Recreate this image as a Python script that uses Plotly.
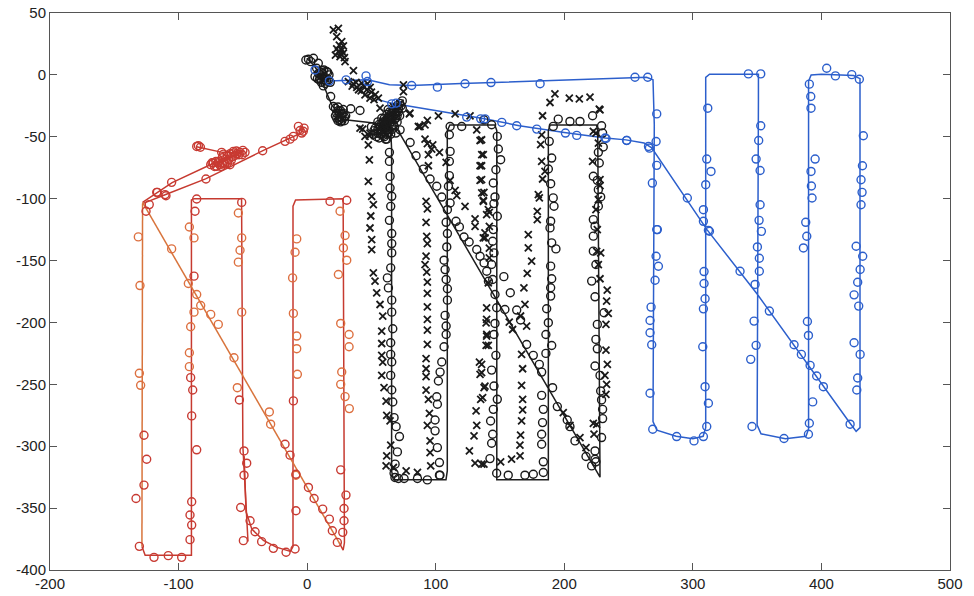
import plotly.graph_objects as go

# ---------------- data (x, y in plot units) ----------------
red_line = [(-86, -58), (-66, -62.6), (-57, -63), (-50, -62), (-62, -68), (-72, -71), (-105, -87), (-117, -95), (-128, -103), None,
            (-3, -43), (-5, -47), (-34, -61), (-79, -84), (-111, -97), (-128, -104), None,
            (-128.5, -381), (-126, -388), (-90, -388), (-90, -101), (-88, -100), (-51, -100), (-50, -300), (-46, -377), None,
            (-49, -308), (-47.5, -353), (-43, -367), (-34, -376), (-24, -381.5), (-13, -385), (-11, -381), (-11, -106),
            (-9, -101), (28, -100), (29, -378), (28, -384), (25, -378)]
orange_line = [(-128, -104), (-128.5, -381), None, (-128, -103), (26, -380)]

red_pts = [(-85.9, -57.8), (-84.6, -57.2), (-83, -58.5), (-66.5, -62.6), (-57.4, -61.8), (-52.2, -62.6), (-48.3, -62.6),
           (-54.8, -63.7), (-60, -63.7), (-56, -65), (-50.5, -64.5), (-73, -71.2), (-69.1, -69.9), (-65.2, -70.7),
           (-61.3, -68.5), (-60, -72.6), (-70.4, -73.9), (-67, -74), (-64, -72), (-75, -72.5), (-58, -66),
           (-53, -64.5), (-62, -65), (-66, -67), (-68, -72.5), (-72, -74), (-63, -70), (-59, -69), (-55, -61.5),
           (-71, -70), (-74, -71), (-65, -64), (-50, -61), (-69, -71), (-66, -72), (-62, -71), (-57, -63),
           (-34.6, -61.3),
           (-17.2, -53.7), (-13.3, -51.9), (-10.7, -49.7), (-6.8, -41.6), (-2.4, -43), (-4.2, -47), (-5.5, -44.9),
           (-3, -45.5), (-105.4, -86.8), (-78.7, -84.1), (-117, -94.9), (-110.5, -96.7), (-125.3, -110.2),
           (-122.8, -104.8), (-116.5, -94.9), (-109.8, -97.6),
           (-85.9, -100.3), (-87.2, -110.2), (-88, -162.6), (-90.6, -244.6), (-89, -254.6), (-89.8, -275.5),
           (-85.9, -302.9), (-89.8, -344.9), (-91.1, -355.6), (-89.8, -363.7), (-91.1, -375.5),
           (-126.9, -291.1), (-124.8, -310.5), (-126.9, -331.4), (-133.1, -342.2), (-130.5, -380.9), (-119.1, -389.8),
           (-108, -388.4), (-97.6, -389.8),
           (-52.7, -262.6), (-49.1, -303.8), (-47, -313.7), (-49.1, -323.4), (-51.7, -349.5), (-49.6, -376.3),
           (-44.4, -360.2), (-40.5, -369.1), (-35.4, -377.1), (-26.3, -382.5), (-16.4, -385.7), (-9.4, -383), (-50.9, -103),
           (-10.7, -263.4), (-8.7, -322.6), (-8.7, -352.1), (17.8, -102.2), (30.8, -101.3),
           (-17.2, -298.4), (-13.3, -307.2), (1, -333.3), (5.4, -342.2), (12.1, -350.8), (17.3, -358.9), (19.6, -368.3),
           (23.5, -377.7), (26.1, -319.1), (30.2, -339.5), (28.7, -350.3), (28.7, -360.2), (27.7, -369.6)]

orange_pts = [(-131.3, -130.9), (-130, -170.2), (-130.5, -241.1), (-129.5, -250.8),
              (-91.6, -122.9), (-88, -131.7), (-92.4, -168.5), (-85.9, -177.4), (-88, -191.7), (-90.6, -203.5),
              (-91.6, -224.5), (-91.6, -235.7),
              (-105.4, -140.6), (-82.8, -186.3), (-75, -193.5), (-69.1, -201.6), (-56.9, -228.5), (-54.3, -252.7),
              (-29.4, -272.3), (-28.4, -282.2), (-8.7, -323.4),
              (-53.5, -111.6), (-50.9, -131.7), (-52.2, -141.7), (-53.5, -151.3), (-50.9, -191.7),
              (-8.1, -132.5), (-9.4, -143.3), (-11.3, -164), (-10.7, -192.7), (-8.1, -211), (-8.1, -221.2), (-7.6, -241.9),
              (25.6, -110.2), (29.5, -129.8), (28.2, -139.8), (30.8, -149.7), (24.3, -161.3), (26.1, -200.8),
              (32.6, -209.7), (32.6, -219.6), (26.9, -240), (26.1, -250), (29.5, -259.9), (32.8, -269.6)]

blue_line = [(6, 4), (10, -1), (16, -5), (30, -4.5), (47, -4), (64, -8), (81, -8.5), (120, -7), (180, -5), (230, -3),
             (264, -2), (269, -4), (270, -40), (269, -280), (272, -287), (287, -292), (300, -294), (308, -292),
             (310, -285), (310, -120), (310, -2), (313, 0.5), (345, 1), (351, 0.5), (351, -20), (350, -283),
             (353, -290), (372, -294), (388, -292), (390, -286), (390, -5), (392, 0), (400, 0.5), (425, -0.5),
             (430, -3), (430, -285), (427, -288), (422, -281), (350, -177), (311, -125), (268, -59), (262, -55),
             (248, -52.5), (232, -51), (200, -46.5), (165, -41), (138, -35.5), (100, -29), (66, -23), (55, -20)]

blue_pts = [(255, -1.9), (264.9, -1.9), (271.9, -31.5), (271.4, -53.8), (266.2, -59.2), (271.9, -73.1), (268.5, -87.4),
            (271.9, -125), (248.5, -53), (232.5, -51.4), (295.7, -99.5), (308.2, -108.9), (308.2, -118.3),
            (312.1, -125.6), (311.6, -26.9), (310.8, -68), (314.1, -78), (310, -88.7), (343.2, 0.8), (352.8, 0.8),
            (352.8, -41.1), (351.2, -53), (349.2, -68), (352.3, -77.2), (352.3, -104.9), (351.5, -117.5),
            (353.3, -126.4), (404.1, 5.4), (410.9, -0.8), (423.6, 0.2), (429.5, -3.5), (390.6, -7.5), (391.7, -17.5),
            (391.9, -26.9), (395.1, -68), (391.9, -78), (392.2, -89.8), (392.7, -99.5), (387.8, -119.1),
            (388.6, -130.4), (432.6, -49.2), (431.9, -73.4), (430.8, -84.7), (431.6, -94.9), (430.8, -104.9),
            (272.4, -125), (271.4, -146.5), (273.2, -154.6), (270.6, -165.9), (267.5, -187.6), (266.7, -198.4),
            (266.7, -208.3), (268, -218), (266.7, -257.2), (268.8, -286.3), (287.4, -292.2), (300.9, -295.7),
            (308.2, -292.2), (310.8, -284.1), (312.1, -265.3), (309.5, -251.9), (307.7, -219.6), (308.2, -189),
            (309.5, -180.9), (308.7, -168.5), (308.7, -158.9), (312.9, -126.3), (336.7, -158.6),
            (348.4, -169.3), (359.5, -190.8), (378.7, -218), (384.4, -225.8), (391.2, -234.7), (396.3, -243.3),
            (401.5, -251.9), (422.3, -282.2), (350.2, -139), (351.7, -148.1), (351.7, -158.6), (347.6, -198.9),
            (349.2, -218.5), (345, -229.8), (346, -284.1), (370.9, -293.8), (389.9, -290.3), (390.6, -281.4),
            (393.2, -264.2), (389.9, -210.5), (389.1, -199.2), (386, -139.8), (427, -138.4), (432.1, -146.5),
            (430.1, -157.2), (428.2, -167.5), (425.4, -177.7), (429, -186.8), (425.4, -216.4), (430.1, -225.8),
            (428.2, -244.9), (427.5, -254.6),
            (6.1, 4), (17.3, -4.8), (30.3, -4), (45.8, -0.8), (46.9, -5.4), (81.3, -8.6), (101.3, -9.9),
            (122.8, -7.2), (143, -6.2), (181.2, -7.2), (65.8, -23.4), (69.2, -22.8), (124.1, -34.1),
            (135, -35.5), (138.4, -35.5), (151.4, -38.4), (163, -41.1), (178.6, -43.8), (200.9, -47),
            (209.7, -48.9), (231.7, -51), (248.6, -52.9), (265.5, -57.8)]

black_line = [(-0.3, 13.5), (5, 8), (9, 2), (12.6, -8), (19, -24), (26, -33), (28, -36), (45, -38), (62, -40),
              (65, -44), (65.7, -60), (65.7, -320), (67, -327), (108, -327), (109, -320), (109, -45), (111, -40.4),
              (146, -40.4), (147.5, -45), (147.5, -327), (187.6, -327), (187.6, -45), (189, -40.4), (225, -40.4),
              (226, -45), (227.8, -325), (69.6, -43)]

black_o = [(1, 12.6), (4.9, 13.4), (2.8, 10.7), (-1, 12), (8.7, 9.4), (7.4, 5.4), (11.3, 3.5), (15.2, 2.7),
           (12.6, -1.4), (6.1, -1.4), (9.5, -4.1), (16.5, -4.1), (12.6, -8.9), (10, 0), (14, -2), (17, 0), (8, -3),
           (11, -6), (13, 4), (18, -6), (12, 1), (15, -5), (10, -3), (16, 2), (14, -7), (9, 1), (13, -4), (11, 2),
           (18.3, -17.5), (20.4, -25.5),
           (23, -30.9), (25.6, -33.6), (22, -27), (24, -26), (26, -29), (28, -31), (27, -35), (29, -37), (24, -37),
           (22, -33), (30, -33), (26, -38), (24, -29), (27, -32), (25, -36), (29, -34), (23, -35), (28, -28),
           (25, -31), (27, -37),
           (33.9, -27.4), (41.1, -28.8),
           (55, -38), (58, -35), (60, -40), (62, -37), (64, -33), (66, -30), (68, -28), (70, -25), (72, -23),
           (74, -21), (62, -45), (58, -44), (55, -47), (52, -45), (65, -48), (60, -50), (68, -42), (70, -38),
           (72, -33), (66, -36), (63, -28), (57, -42), (54, -50), (61, -52), (69, -47), (74, -27), (71, -30),
           (50, -42), (64, -40), (56, -40), (59, -38), (61, -42), (63, -35), (65, -38), (67, -33), (69, -31),
           (71, -27), (73, -25), (60, -46), (57, -48), (53, -43), (66, -44), (63, -47), (59, -41), (62, -32),
           (64, -30), (67, -40), (55, -44), (58, -47), (61, -37), (68, -36), (70, -33), (52, -48), (56, -51),
           (60, -43), (62, -41), (64, -36), (66, -41), (58, -39), (60, -35), (63, -44), (65, -34), (67, -29),
           (69, -35), (57, -45), (59, -49), (62, -48), (70, -29), (68, -32), (61, -39),
           (72.3, -44.4), (80.1, -54.6), (84.7, -65.3), (90.4, -76.1), (95.6, -84.1), (100.8, -90), (104.7, -98.7),
           (111.2, -103.5), (115.8, -118.3), (118.4, -122.8), (131.9, -141.1), (134.5, -146.5), (137.6, -151.9),
           (139.7, -158.6), (141, -166.7),
           (61.9, -51.9), (64, -62.6), (64, -69.9), (64.5, -82), (64.5, -91.4), (65.8, -98.1), (65, -106.2),
           (64, -117.5), (65.8, -128.2), (65.8, -136.3), (65.8, -143.8), (65, -155.9), (62.4, -164), (63.2, -172.1),
           (65.8, -182), (65.8, -191.7), (66.6, -205.1), (65, -216.4), (65, -225.8), (65.8, -232), (65, -242.8),
           (65.8, -254.6), (66.6, -264.3), (67.6, -276.9), (69.2, -284.2), (71.8, -292.2), (70.2, -304.6),
           (68.4, -314.5), (67.6, -321.8), (71, -326.1), (75.4, -326.1), (85.8, -326.1), (93.5, -327.2),
           (68.3, -325.3), (103.3, -323.4),
           (111.2, -41.7), (120.2, -41.7), (110.6, -48.4), (111.2, -61.8), (110.6, -69.9), (110.6, -81.4),
           (109.9, -90), (109.1, -108.9), (108.1, -119.1), (109.1, -128.2), (108.6, -139), (106.5, -149.7),
           (107.3, -157.3), (108.1, -165.3), (109.1, -172.8), (109.1, -182), (107.3, -194.3), (108.1, -202.9),
           (108.1, -209.7), (106.5, -219.6), (104.7, -232), (103.4, -240.1), (102.1, -247.3), (100.8, -260),
           (101.3, -266.1), (99.5, -278.8), (99.5, -287.6), (101.3, -301.1), (102.9, -313.2), (102.9, -323.4),
           (147.9, -49.7), (148.7, -59.9), (150.5, -68.5), (146.8, -76.6), (144.8, -87.3), (146.1, -98.6),
           (145.3, -104), (147.9, -114.2), (144.8, -125), (144.3, -134.4), (145.3, -143.8), (143.5, -153.2),
           (144.3, -165.3), (146.1, -177.4), (147.4, -188.1), (153.8, -189.5), (143.5, -40.3), (137.5, -36.3),
           (146.1, -200.8), (145.3, -209.7), (146.8, -226.6), (143.5, -238.5), (145.3, -251.4), (147.9, -262.1),
           (144.8, -270.2), (142.7, -279.6), (144.3, -290.3), (143.5, -297.6), (142.2, -310), (147.4, -321.8),
           (156.4, -323.4), (169.4, -323.4), (175.9, -322.6), (183.7, -321.2),
           (195.3, -35.7), (204.4, -37.6), (212.2, -37.6), (222, -33), (191.4, -41.6), (188.3, -53.7),
           (190.2, -67.2), (187.6, -76), (189.4, -87.9), (191.4, -99.4), (192, -106.1), (189.4, -118.2),
           (188.9, -123.6), (190.2, -135.7), (193.5, -140.6), (189.4, -154.5), (190.2, -164.7), (189.4, -172),
           (189.4, -178.7), (186.3, -188.9), (187.6, -200.2), (185.7, -209.7), (190.2, -218.6), (185.7, -225),
           (182.4, -258.9), (183.7, -270.2), (183.1, -280.9), (182.4, -290.3), (182.4, -298.4), (183.7, -312.6),
           (170.7, -217.8), (175.9, -226.6), (180.6, -233.9), (182.4, -240.1), (190.9, -252.7), (194.6, -268),
           (202.3, -278.8), (204.4, -284.2), (208.3, -295.7), (216.9, -308.3), (221.3, -315.9), (223.9, -310.5),
           (229, -41.1), (229.8, -47), (230.3, -58.3), (226.5, -62.6), (227.2, -71.2), (222.6, -81.9),
           (225.7, -85.2), (226.5, -92.7), (228.3, -98.6), (226.5, -106.1), (222.6, -116.9), (223.9, -122.3),
           (222.6, -130.3), (222.6, -142.4), (224.6, -153.2), (221.3, -166.6), (223.9, -179.3), (230.9, -192.2),
           (225.7, -201.6), (224.6, -213.7), (225.7, -221.3), (223.9, -235.2), (227.8, -242.8), (228.3, -255.4),
           (229, -262.6), (229.8, -270.2), (229.8, -277.7), (229, -293), (223.9, -303.8), (224.6, -312.6),
           (153, -163), (158, -176), (163, -190), (166, -198), (122, -131), (126, -135)]

black_x = [(20.4, 36.3), (24.3, 37.6), (23, 30.9), (26.9, 26.9), (28.2, 23.4), (24.3, 18.8), (28.2, 17.5),
           (25.6, 14.8), (22, 16), (27, 20), (29.5, 10.7), (36, 3.5), (23, 21), (26, 17), (25, 24), (29, 14),
           (32.1, -5.4), (36, -7.3), (38.6, -10), (42.4, -6.7), (46.3, -12.1), (48.9, -18.8), (55.4, -18.8),
           (45, -16.1), (40, -12), (35, -9), (50, -14), (44, -9), (52, -20), (47, -7), (38, -6), (42, -13),
           (49, -10), (53, -16),
           (56.7, -26.9), (67.1, -25.6), (72.3, -22.9), (74.9, -13.5), (74.9, -8.1), (80, -30.9), (86.5, -41.7),
           (91.7, -40.3), (41.1, -43), (48.9, -47.1), (45, -49.7), (43.2, -43.8),
           (79.5, -31.5), (87.8, -41.7), (93.5, -36.8), (102.1, -33.1), (115.1, -31.5), (126.7, -33.1),
           (131.9, -44.4), (134.5, -53), (135.8, -64.5), (134.5, -73.4), (134.5, -85.2), (135.8, -95.4),
           (137.1, -102.1), (130.6, -116.4), (130.6, -122.3), (138.4, -131.7),
           (91.7, -51.9), (93.5, -55.6), (97.7, -56.5), (96.9, -59.9), (102.9, -62.6), (94.3, -64.5), (94.3, -73.4),
           (108.1, -70.7), (111.2, -85.2), (115.1, -93.3), (116.4, -97.6), (122.8, -106.2),
           (92.5, -102.1), (93.5, -108.3), (92.5, -119.1), (93, -130.4), (93.5, -136.3), (92.5, -146.5),
           (91.7, -153.2), (93, -159.4), (93.5, -167.5), (93.5, -176.6), (93.5, -187.4), (93.5, -197.6),
           (93.5, -206.2), (93.5, -217.8), (92.5, -229.3), (92.5, -237.4), (92.5, -243.8), (92.5, -254.6),
           (94.3, -262.1), (95.1, -273.4), (93.5, -283.1), (95.6, -295.7), (95.6, -305.1), (96.1, -315.9),
           (47.6, -56.5), (48.4, -68.6), (47.6, -86.1), (50.2, -98.2), (51.5, -104.9), (48.9, -123.7),
           (50.2, -133.1), (50.2, -141.2), (51.5, -160), (52.8, -166.7), (54.1, -176.1), (56.7, -185.5),
           (58.8, -194.9), (58, -207), (58, -217), (58, -226.6), (58.8, -232), (58, -242.8), (59.8, -252.7),
           (61.4, -263.5), (61.9, -275), (64.5, -279.6), (65, -299.2), (61.9, -307.8), (61.4, -315.9), (67.1, -317.2),
           (77, -319.9), (85.8, -321.2), (48.4, -49.2), (49.5, -114),
           (139.2, -200.3), (139.7, -209.7), (139.2, -218.6), (134, -232), (134.5, -242), (137.6, -252.7),
           (135, -262.1), (131.4, -271.5), (131.9, -283.1), (129.8, -291.7), (126.2, -303.8), (130.6, -313.7),
           (135.8, -314.5), (140.9, -108.9), (139.6, -112.9), (138.3, -127.7), (141.7, -147.9), (140.9, -168),
           (139.6, -188.2), (139.6, -197.6), (141.7, -140),
           (192.7, -15.3), (188.9, -22.3), (203.9, -18.8), (211.7, -19.3), (220, -18), (227.2, -27.7),
           (183.1, -33), (182.4, -48.4), (181.6, -56.4), (182.4, -69.9), (185, -77.9), (183.1, -84.1), (179.8, -96.7),
           (180.6, -99.4), (179, -110.2), (179, -116.9), (172, -129), (172, -139.7), (174.6, -150.5), (171.2, -160.4),
           (168.6, -172), (169.4, -185.4), (166, -194.8), (170.7, -202.9), (166.8, -225.8), (167.6, -237.4),
           (166.8, -250.8), (167.6, -262.1), (167.6, -270.7), (166.8, -279.6), (166, -291.1), (165.5, -299.2),
           (165.6, -307.8), (159, -310.5), (150.5, -312.6), (137.5, -314.5), (139.6, -211), (140.9, -218.6),
           (135.7, -233.9), (135.7, -240.6), (138.3, -251.4), (136.5, -260.8),
           (135.7, -52.4), (137, -64.5), (135.7, -73.4), (135.7, -84.6), (137.5, -94.9), (137, -101.3),
           (141.7, -111), (141.7, -122.3), (137, -131.7),
           (157.2, -199.7), (159.8, -205.7), (199.2, -272.9), (204.4, -283.1), (212.2, -293), (216.9, -301.1),
           (222.6, -281.5), (223.1, -290.3),
           (224.6, -47), (222, -69.9), (227.8, -89.5), (224.6, -108.8), (228.3, -143.8), (227.8, -164.7),
           (233.4, -173.9), (232.9, -182.8), (234.2, -192.7), (232.4, -201.6), (232.4, -222.3), (233.5, -233.9),
           (231.6, -242.8), (232.9, -250), (232.4, -258.1), (227.8, -28.3), (222.6, -45.7), (226.5, -55.1),
           (227.8, -84.7), (226.5, -100.8), (225.7, -125), (225.2, -142.5), (226.5, -153.2), (225.2, -282.3)]

x_ticks = [-200, -100, 0, 100, 200, 300, 400, 500]
y_ticks = [-400, -350, -300, -250, -200, -150, -100, -50, 0, 50]


def xs(pts):
    return [None if p is None else p[0] for p in pts]


def ys(pts):
    return [None if p is None else p[1] for p in pts]


fig = go.Figure()

LW = 1.5
fig.add_trace(go.Scatter(x=xs(red_line), y=ys(red_line), mode="lines",
                         line=dict(color="#c63a30", width=LW), hoverinfo="skip"))
fig.add_trace(go.Scatter(x=xs(orange_line), y=ys(orange_line), mode="lines",
                         line=dict(color="#d8743c", width=LW), hoverinfo="skip"))
fig.add_trace(go.Scatter(x=xs(blue_line), y=ys(blue_line), mode="lines",
                         line=dict(color="#2c5fcc", width=LW), hoverinfo="skip"))
fig.add_trace(go.Scatter(x=xs(black_line), y=ys(black_line), mode="lines",
                         line=dict(color="#1e1e1e", width=LW), hoverinfo="skip"))


def circ(color):
    return dict(symbol="circle-open", size=8, color=color, line=dict(width=1.4, color=color))


fig.add_trace(go.Scatter(x=xs(black_x), y=ys(black_x), mode="markers",
                         marker=dict(symbol="x-thin-open", size=7, color="#1a1a1a",
                                     line=dict(width=1.8, color="#1a1a1a"))))
fig.add_trace(go.Scatter(x=xs(black_o), y=ys(black_o), mode="markers", marker=circ("#1a1a1a")))
fig.add_trace(go.Scatter(x=xs(orange_pts), y=ys(orange_pts), mode="markers", marker=circ("#dd7040")))
fig.add_trace(go.Scatter(x=xs(red_pts), y=ys(red_pts), mode="markers", marker=circ("#c83a32")))
fig.add_trace(go.Scatter(x=xs(blue_pts), y=ys(blue_pts), mode="markers", marker=circ("#2c5fcc")))

axis_common = dict(showgrid=False, zeroline=False, showline=True, linecolor="#555", linewidth=1,
                   mirror="ticks", ticks="inside", ticklen=7, tickcolor="#555", tickwidth=1,
                   automargin=False,
                   tickfont=dict(family="Liberation Sans, Arial, sans-serif", size=15, color="#222"))

fig.update_layout(
    width=974, height=596,
    margin=dict(l=50, r=24, t=13, b=26),
    paper_bgcolor="white", plot_bgcolor="white",
    showlegend=False,
    xaxis=dict(range=[-200, 500], tickvals=x_ticks, ticktext=[str(v) for v in x_ticks], **axis_common),
    yaxis=dict(range=[-400, 50], tickvals=y_ticks, ticktext=[str(v) for v in y_ticks], **axis_common),
)

fig.write_html("out.html")
